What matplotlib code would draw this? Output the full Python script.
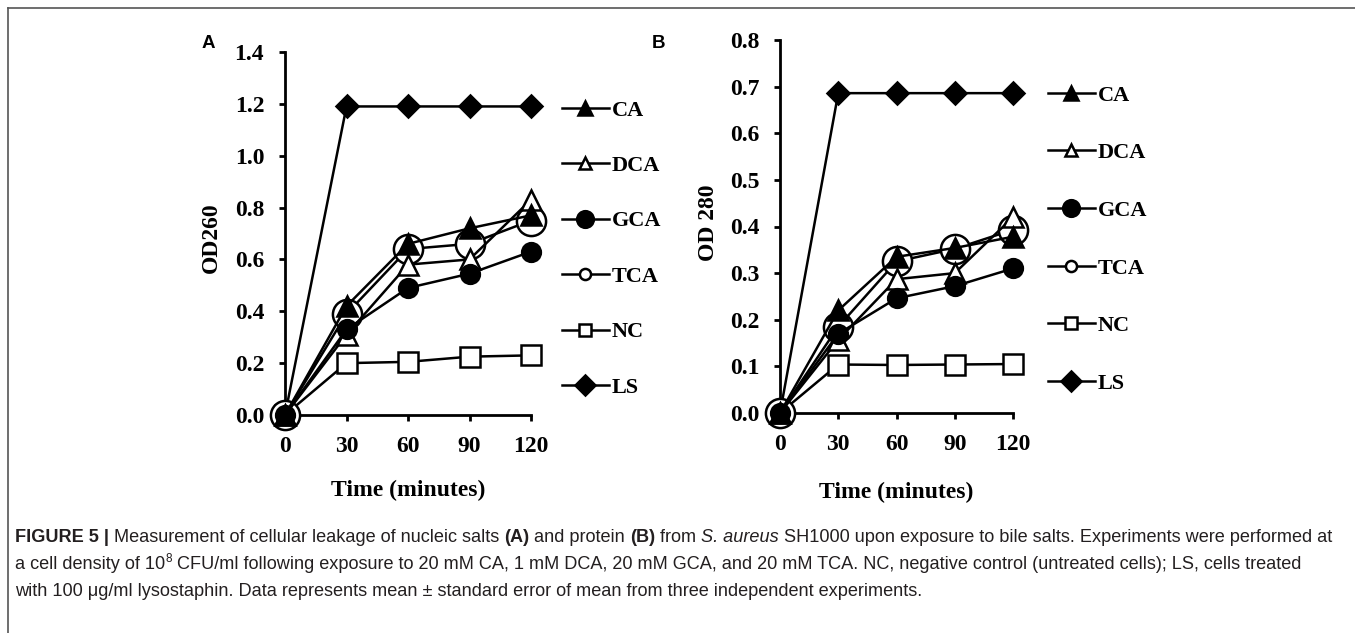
import matplotlib
matplotlib.use("Agg")
import matplotlib.pyplot as plt
from matplotlib.lines import Line2D
from matplotlib import font_manager

W, H = 1355, 633

# time points (minutes)
times = [0, 30, 60, 90, 120]
labels = ["CA", "DCA", "GCA", "TCA", "NC", "LS"]

# panel A: OD260
a_ca = [0.0, 0.42, 0.66, 0.72, 0.77]
a_dca = [0.0, 0.31, 0.58, 0.60, 0.83]
a_gca = [0.0, 0.33, 0.49, 0.545, 0.63]
a_tca = [0.0, 0.39, 0.64, 0.66, 0.75]
a_nc = [0.0, 0.20, 0.205, 0.225, 0.23]
a_ls = [0.0, 1.19, 1.19, 1.19, 1.19]

# panel B: OD 280
b_ca = [0.0, 0.22, 0.335, 0.354, 0.378]
b_dca = [0.0, 0.157, 0.287, 0.300, 0.42]
b_gca = [0.0, 0.17, 0.246, 0.272, 0.31]
b_tca = [0.0, 0.185, 0.325, 0.352, 0.393]
b_nc = [0.0, 0.104, 0.103, 0.104, 0.105]
b_ls = [0.0, 0.686, 0.686, 0.686, 0.686]

serif = "Liberation Serif"

# marker style per series: marker, filled, plot size, legend size
styles = {
    "CA": ("^", True, 15, 10),
    "DCA": ("^", False, 15, 9),
    "GCA": ("o", True, 13.5, 12),
    "TCA": ("o", False, 21, 8),
    "NC": ("s", False, 14.5, 9),
    "LS": ("D", True, 11, 10),
}
draw_order = ["NC", "LS", "TCA", "DCA", "GCA", "CA"]


def series_kw(name, legend=False):
    m, filled, ms, lms = styles[name]
    return dict(color="black", lw=1.8, marker=m,
                ms=lms if legend else ms,
                mfc="black" if filled else "white",
                mec="black", mew=1.8)


def panel(ax, data, ylim, yticks, ylabel, ylab_x, ylab_y, xlab_y,
          leg_x, leg_y, leg_sp, letter, letter_x):
    for name in draw_order:
        ax.plot(times, data[name], clip_on=False, zorder=3, **series_kw(name))
    ax.set_xlim(0, 120)
    ax.set_ylim(*ylim)
    ax.set_xticks(times)
    ax.set_yticks(yticks)
    ax.set_yticklabels(["%.1f" % v for v in yticks])
    for s in ["top", "right"]:
        ax.spines[s].set_visible(False)
    for s in ["left", "bottom"]:
        ax.spines[s].set_linewidth(2)
    ax.tick_params(direction="out", length=4, width=2, pad=11,
                   labelsize=17)
    for lab in ax.get_xticklabels() + ax.get_yticklabels():
        lab.set_family(serif)
        lab.set_fontweight("bold")
    fig.text(ylab_x / W, 1 - ylab_y / H, ylabel, rotation=90, ha="center",
             va="center", family=serif, fontweight="bold", fontsize=17)
    bb = ax.get_position()
    fig.text((bb.x0 + bb.x1) / 2, 1 - xlab_y / H, "Time (minutes)",
             ha="center", va="center", family=serif, fontweight="bold",
             fontsize=17)
    fig.text(letter_x / W, 1 - 43 / H, letter, ha="left", va="center",
             family="Liberation Sans", fontweight="bold", fontsize=13.5)
    handles = [Line2D([], [], **series_kw(n, legend=True)) for n in labels]
    ax.legend(handles, labels, loc="upper left",
              bbox_to_anchor=(leg_x / W, 1 - leg_y / H),
              bbox_transform=fig.transFigure, frameon=False,
              prop=dict(family=serif, weight="bold", size=16),
              labelspacing=leg_sp, handlelength=2.1, handletextpad=0.15,
              borderpad=0, borderaxespad=0)


fig = plt.figure(figsize=(W / 100, H / 100), dpi=100)

ax_a = fig.add_axes([285 / W, 1 - 415 / H, 246 / W, 363 / H])
ax_b = fig.add_axes([780 / W, 1 - 413 / H, 233 / W, 373 / H])

data_a = dict(CA=a_ca, DCA=a_dca, GCA=a_gca, TCA=a_tca, NC=a_nc, LS=a_ls)
data_b = dict(CA=b_ca, DCA=b_dca, GCA=b_gca, TCA=b_tca, NC=b_nc, LS=b_ls)

panel(ax_a, data_a, (0, 1.4), [0, 0.2, 0.4, 0.6, 0.8, 1.0, 1.2, 1.4],
      "OD260", 211, 238, 490, 562, 100, 1.57, "A", 202)
panel(ax_b, data_b, (0, 0.8), [0, 0.1, 0.2, 0.3, 0.4, 0.5, 0.6, 0.7, 0.8],
      "OD 280", 708, 223, 492, 1048, 85, 1.67, "B", 652)

# frame lines around the figure
fig.add_artist(Line2D([8 / W, 1], [1 - 8 / H, 1 - 8 / H], color="#555555",
                      lw=1.2, transform=fig.transFigure))
fig.add_artist(Line2D([8 / W, 8 / W], [1 - 8 / H, 0], color="#555555",
                      lw=1.2, transform=fig.transFigure))

# caption
try:
    font_manager.findfont("Liberation Sans Narrow", fallback_to_default=False)
    cap_family = "Liberation Sans Narrow"
except Exception:
    cap_family = "Liberation Sans"

cap_color = "#231f20"
line1 = [("FIGURE 5 |", "bold", "normal"),
         (" Measurement of cellular leakage of nucleic salts ", "normal", "normal"),
         ("(A)", "bold", "normal"), (" and protein ", "normal", "normal"),
         ("(B)", "bold", "normal"), (" from ", "normal", "normal"),
         ("S. aureus", "normal", "italic"),
         (" SH1000 upon exposure to bile salts. Experiments were performed at",
          "normal", "normal")]
line2 = [("a cell density of 10", "normal", "normal"),
         ("8", "sup", "normal"),
         (" CFU/ml following exposure to 20 mM CA, 1 mM DCA, 20 mM GCA, and "
          "20 mM TCA. NC, negative control (untreated cells); LS, cells treated",
          "normal", "normal")]
line3 = [("with 100 \u03bcg/ml lysostaphin. Data represents mean \u00b1 standard "
          "error of mean from three independent experiments.", "normal", "normal")]


def draw_runs(runs, x_px, y_px, size):
    renderer = fig.canvas.get_renderer()
    texts = []
    x = x_px
    for s, weight, style in runs:
        fs, dy = size, 0
        if weight == "sup":
            fs, dy, weight = size * 0.65, size * 0.55, "normal"
        t = fig.text(x / W, 1 - (y_px - dy) / H, s, ha="left", va="baseline",
                     family=cap_family, fontweight=weight, fontstyle=style,
                     fontsize=fs, color=cap_color)
        texts.append(t)
        x += t.get_window_extent(renderer).width
    return texts, x


# fit the first caption line to its width in the reference
tmp, end = draw_runs(line1, 15, 542, 12)
for t in tmp:
    t.remove()
cap_size = 12 * (1340 - 15) / (end - 15)

draw_runs(line1, 15, 542, cap_size)
draw_runs(line2, 15, 569, cap_size)
draw_runs(line3, 15, 596, cap_size)

fig.savefig("out.png", dpi=100)
